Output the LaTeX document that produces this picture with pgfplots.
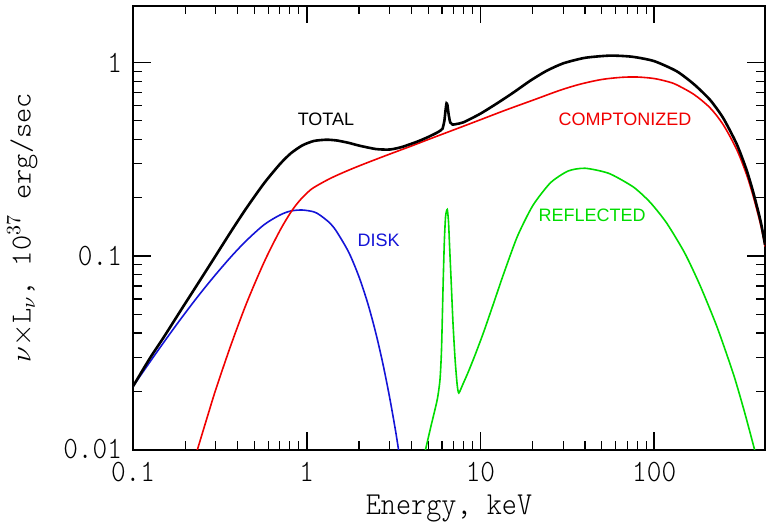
\documentclass[border=0pt]{standalone}
\usepackage{pgfplots}
\pgfplotsset{compat=1.18}
\usepackage{fontspec}
\newfontfamily\arial{Liberation Sans}
\newfontfamily\ttn[FakeStretch=0.9]{lmmonolt10-regular.otf}
\newfontfamily\ttl{lmmonolt10-regular.otf}
\definecolor{cgreen}{RGB}{0,220,0}
\definecolor{cblue}{RGB}{20,20,215}
\definecolor{cred}{RGB}{240,0,0}
\begin{document}
\begin{tikzpicture}
\begin{axis}[
 name=ax,
 xmode=log, ymode=log,
 scale only axis, width=316pt, height=222pt,
 xmin=0.1, xmax=434.5, ymin=0.01, ymax=1.97,
 xtick={0.1,1,10,100}, xticklabels={0.1,1,10,100},
 ytick={0.01,0.1,1}, yticklabels={0.01,0.1,1},
 tick align=inside,
 major tick length=9pt, minor tick length=4.5pt,
 every tick/.style={black, line width=0.8pt},
 minor tick style={line width=0.6pt},
 axis line style={line width=1pt},
 tick label style={font=\ttn\fontsize{15.5}{15.5}\selectfont},
 yticklabel style={xshift=-2pt},
 xticklabel style={yshift=-5pt, inner sep=1pt},
 /pgf/number format/assume math mode=true,
 xlabel={Energy, keV},
 ylabel={$\nu\times$L$_\nu$, 10$^{37}$ erg/sec},
 xlabel style={font=\ttn\fontsize{16}{16}\selectfont, inner sep=1pt, at={(axis description cs:0.5,-0.132)}, anchor=center},
 ylabel style={font=\ttl\fontsize{14.5}{16}\selectfont, at={(axis description cs:-0.175,0.5)}, anchor=center},
 clip=true,
]
% REFLECTED
\addplot[cgreen, line width=0.8pt, smooth, tension=0.4] coordinates {
(4.6,0.0083) (4.83,0.01) (5.2,0.0133) (5.64,0.0181) (5.85,0.023) (5.97,0.033)
(6.1,0.0726) (6.2,0.12) (6.3,0.16) (6.44,0.174) (6.55,0.15) (6.65,0.11)
(6.79,0.0726) (6.95,0.045) (7.15,0.029) (7.35,0.0215) (7.51,0.0196) (7.9,0.0216)
(8.5,0.0251) (9.3,0.0307) (10.45,0.0406) (12,0.0582) (13.5,0.0794) (16.3,0.126)
(20,0.182) (25.3,0.239) (32,0.275) (40.1,0.284) (55,0.267) (76,0.227)
(95,0.189) (118,0.148) (150,0.1035) (184,0.0702) (230,0.043) (286,0.0245)
(330,0.0158) (376,0.0102) (400,0.0081)
};
% DISK
\addplot[cblue, line width=0.8pt, smooth] coordinates {
(0.1,0.0212) (0.125,0.0283) (0.151,0.0360) (0.19,0.0478) (0.235,0.0614)
(0.29,0.0776) (0.366,0.0989) (0.45,0.1202) (0.569,0.1452) (0.7,0.1627)
(0.809,0.1708) (0.944,0.1728) (1.1,0.169) (1.2,0.162) (1.37,0.147)
(1.5,0.132) (1.75,0.104) (2.0,0.078) (2.25,0.0566) (2.5,0.0399)
(2.75,0.0275) (3.0,0.0186) (3.25,0.0124) (3.5,0.0081)
};
% COMPTONIZED
\addplot[cred, line width=0.8pt, smooth] coordinates {
(0.22,0.0081) (0.235,0.01) (0.27,0.0151) (0.3,0.0205) (0.366,0.0346)
(0.45,0.0569) (0.569,0.0931) (0.7,0.135) (0.809,0.168) (0.9,0.191)
(1.0,0.211) (1.1,0.226) (1.37,0.252) (1.75,0.278) (2.2,0.302)
(3.0,0.336) (4.0,0.370) (5.16,0.404) (7.0,0.448) (10,0.506) (14,0.568)
(20,0.638) (28.8,0.719) (37.6,0.773) (50,0.817) (65,0.838) (80,0.841)
(100,0.826) (120,0.796) (135,0.766) (170,0.682) (210,0.582) (250,0.476)
(299,0.354) (340,0.264) (372,0.203) (410,0.145) (435,0.112)
};
% TOTAL
\addplot[black, line width=1.3pt, smooth, tension=0.4] coordinates {
(0.1,0.0212) (0.125,0.0296) (0.151,0.0383) (0.19,0.053) (0.235,0.0714)
(0.29,0.096) (0.366,0.1335) (0.45,0.177) (0.569,0.238) (0.7,0.298)
(0.809,0.339) (0.944,0.373) (1.1,0.393) (1.3,0.399) (1.5,0.395)
(1.75,0.384) (2.0,0.372) (2.5,0.357) (3.0,0.355) (3.5,0.365) (4.33,0.39)
(5.0,0.412) (5.6,0.433) (5.89,0.445) (6.05,0.455) (6.2,0.50) (6.3,0.57)
(6.38,0.615) (6.46,0.60) (6.56,0.54) (6.7,0.49) (6.9,0.478) (7.2,0.48)
(8.0,0.491) (10.0,0.544) (12.5,0.616) (15.5,0.70) (19.4,0.806) (24,0.905)
(30,0.99) (40,1.057) (55.8,1.085) (75,1.07) (100,1.016) (135,0.90)
(170,0.77) (210,0.64) (250,0.515) (299,0.378) (340,0.279) (372,0.213)
(410,0.151) (435,0.114)
};
\node[font=\arial\fontsize{9}{9}\selectfont, text=black] at (axis cs:1.29,0.507) {TOTAL};
\node[font=\arial\fontsize{9}{9}\selectfont, text=cred] at (axis cs:68,0.507) {COMPTONIZED};
\node[font=\arial\fontsize{9}{9}\selectfont, text=cblue] at (axis cs:2.59,0.12) {DISK};
\node[font=\arial\fontsize{9}{9}\selectfont, text=cgreen] at (axis cs:44,0.162) {REFLECTED};
\end{axis}
\pgfresetboundingbox
\path[use as bounding box] ([xshift=-66.5pt,yshift=-39.75pt]ax.south west) rectangle ([xshift=0.5pt,yshift=2.75pt]ax.north east);
\end{tikzpicture}
\end{document}
